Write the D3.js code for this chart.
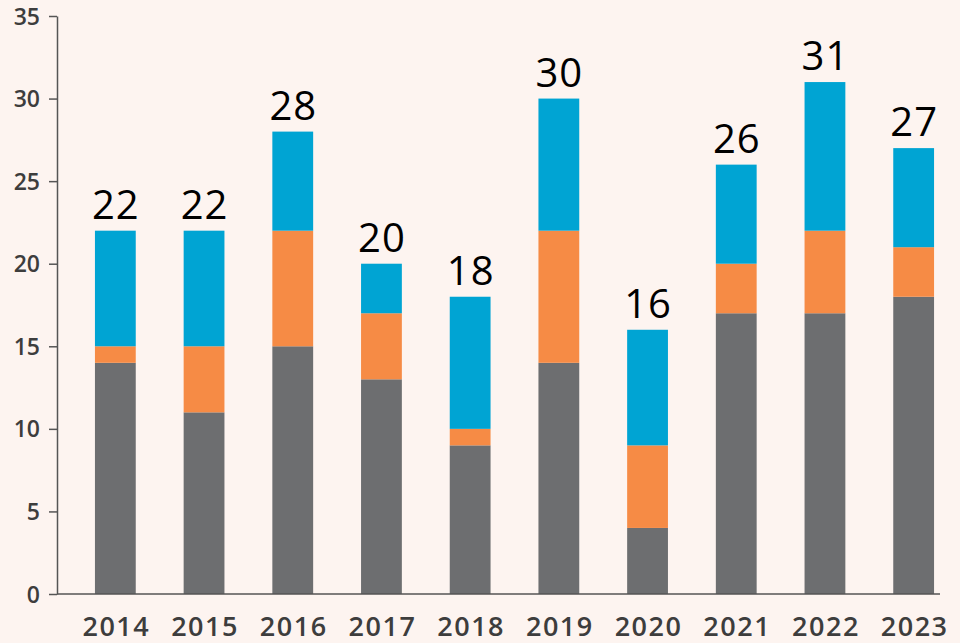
<!DOCTYPE html>
<html>
<head>
<meta charset="utf-8">
<script src="https://cdn.jsdelivr.net/npm/d3@7"></script>
<style>
  html, body { margin: 0; padding: 0; background: #fdf4f0; }
  .axis text { font-family: "Open Sans", sans-serif; font-weight: 600; fill: #3d3d3d; }
  .axis path, .axis line { stroke: #555; stroke-width: 1.5; }
  .total { font-family: "Open Sans", sans-serif; font-size: 40px; fill: #000; text-anchor: middle; letter-spacing: 1px; }
</style>
</head>
<body>
<div id="d3-container"></div>
<script>
// data
const years = ["2014", "2015", "2016", "2017", "2018", "2019", "2020", "2021", "2022", "2023"];
const greyVals = [14, 11, 15, 13, 9, 14, 4, 17, 17, 18];
const orangeVals = [1, 4, 7, 4, 1, 8, 5, 3, 5, 3];
const blueVals = [7, 7, 6, 3, 8, 8, 7, 6, 9, 6];
const totals = [22, 22, 28, 20, 18, 30, 16, 26, 31, 27];
const yTicks = [0, 5, 10, 15, 20, 25, 30, 35];

const keys = ["grey", "orange", "blue"];
const colors = { grey: "#6d6e70", orange: "#f68b45", blue: "#00a4d3" };

const table = years.map((y, i) => ({
  year: y, grey: greyVals[i], orange: orangeVals[i], blue: blueVals[i], total: totals[i]
}));

// frame
const width = 960,
  height = 643,
  margin = { top: 16, bottom: 49, left: 57, right: 20 };

const xScale = d3.scaleBand()
  .domain(years)
  .range([71, 958])
  .paddingInner(0.54)
  .paddingOuter(0.27);

const yScale = d3.scaleLinear()
  .domain([0, 35])
  .range([height - margin.bottom, margin.top]);

const svg = d3.select("#d3-container")
  .append("svg")
  .attr("width", width)
  .attr("height", height);

const stack = d3.stack().keys(keys)(table);

// bars
svg.append("g")
  .selectAll("g")
  .data(stack)
  .join("g")
  .attr("fill", d => colors[d.key])
  .selectAll("rect")
  .data(d => d)
  .join("rect")
  .attr("x", d => xScale(d.data.year))
  .attr("y", d => yScale(d[1]))
  .attr("width", xScale.bandwidth())
  .attr("height", d => yScale(d[0]) - yScale(d[1]));

// totals
svg.append("g")
  .selectAll("text")
  .data(table)
  .join("text")
  .attr("class", "total")
  .attr("x", d => xScale(d.year) + xScale.bandwidth() / 2 + 0.5)
  .attr("y", d => yScale(d.total) - 12)
  .text(d => d.total);

// y axis
svg.append("g")
  .attr("class", "axis")
  .attr("transform", `translate(${margin.left},0)`)
  .call(d3.axisLeft(yScale).tickValues(yTicks).tickSize(8).tickPadding(9).tickSizeOuter(0))
  .call(g => g.selectAll("text").attr("font-size", 23).attr("dy", "0.35em"));

// x axis line
svg.append("line")
  .attr("x1", margin.left)
  .attr("x2", 940)
  .attr("y1", yScale(0))
  .attr("y2", yScale(0))
  .attr("stroke", "#555")
  .attr("stroke-width", 1.5);

// x labels
svg.append("g")
  .attr("class", "axis")
  .selectAll("text")
  .data(years)
  .join("text")
  .attr("x", d => xScale(d) + xScale.bandwidth() / 2 + 1)
  .attr("y", 636)
  .attr("text-anchor", "middle")
  .attr("font-size", 27)
  .attr("letter-spacing", 1.5)
  .text(d => d);
</script>
</body>
</html>
